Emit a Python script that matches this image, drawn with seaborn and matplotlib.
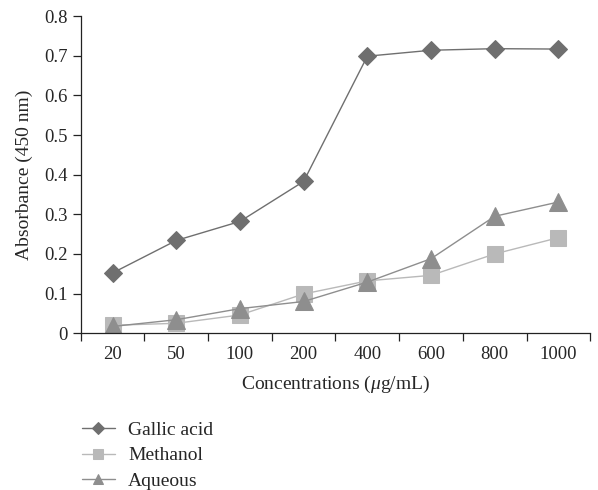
import numpy as np
import pandas as pd
import seaborn as sns
import matplotlib.pyplot as plt
from matplotlib.ticker import FixedLocator, FuncFormatter

# values
concentrations = ['20', '50', '100', '200', '400', '600', '800', '1000']
gallic_acid = [0.152, 0.234, 0.282, 0.383, 0.699, 0.714, 0.718, 0.717]
methanol = [0.020, 0.025, 0.046, 0.099, 0.132, 0.146, 0.200, 0.241]
aqueous = [0.017, 0.034, 0.062, 0.080, 0.129, 0.188, 0.295, 0.331]

series_names = ['Gallic acid', 'Methanol', 'Aqueous']
series_values = [gallic_acid, methanol, aqueous]

sns.set_theme(style='ticks')
plt.rcParams['font.family'] = ['Liberation Serif', 'DejaVu Serif']
plt.rcParams['mathtext.fontset'] = 'custom'
plt.rcParams['mathtext.it'] = 'Liberation Serif:italic'
plt.rcParams['mathtext.rm'] = 'Liberation Serif'

colors = ['#6f6f6f', '#b9b9b9', '#8e8e8e']
markers = ['D', 's', '^']
msizes = [9.5, 12, 13]

fig = plt.figure(figsize=(5.98, 4.9), dpi=100)
ax = fig.add_axes([0.135, 0.32, 0.852, 0.647])

pos = np.arange(len(concentrations))
for name, vals, c, m, ms in zip(series_names, series_values, colors, markers, msizes):
    sns.lineplot(x=pos, y=vals, ax=ax, color=c, marker=m, markersize=ms,
                 markeredgecolor=c, linewidth=1.0, label=name)

ax.set_xlim(-0.5, len(concentrations) - 0.5)
ax.set_ylim(0, 0.8)
ax.set_yticks(np.arange(0, 0.81, 0.1))
ax.yaxis.set_major_formatter(FuncFormatter(lambda v, p: '0' if abs(v) < 1e-9 else f'{v:.1f}'))

# tick marks between categories, labels centred on categories
ax.xaxis.set_major_locator(FixedLocator(np.arange(-0.5, len(concentrations), 1.0)))
ax.xaxis.set_major_formatter(FuncFormatter(lambda v, p: ''))
ax.xaxis.set_minor_locator(FixedLocator(pos))
ax.set_xticklabels(concentrations, minor=True)
ax.tick_params(axis='x', which='minor', length=0, pad=9)
ax.tick_params(axis='both', which='major', length=6, width=0.9, color='#222222',
               labelsize=13.5, direction='out')
ax.tick_params(axis='x', which='minor', labelsize=13.5)

for s in ['top', 'right']:
    ax.spines[s].set_visible(False)
for s in ['left', 'bottom']:
    ax.spines[s].set_linewidth(0.9)
    ax.spines[s].set_color('#222222')

ax.set_xlabel(r'Concentrations ($\mu$g/mL)', fontsize=14, labelpad=8)
ax.set_ylabel('Absorbance (450 nm)', fontsize=14, labelpad=8)

ax.legend(loc='upper left', bbox_to_anchor=(-0.025, -0.235), frameon=False,
          fontsize=14, handlelength=1.7, labelspacing=0.4, handletextpad=0.7,
          markerscale=0.6, borderpad=0.2)

fig.savefig('out.png', dpi=100)
